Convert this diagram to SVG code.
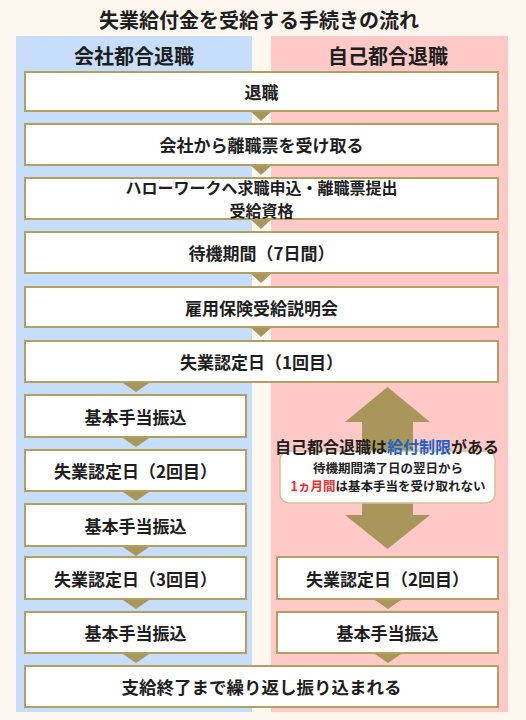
<svg xmlns="http://www.w3.org/2000/svg" width="526" height="720" viewBox="0 0 526 720">
<style>
.bg{fill:#fef7ef}
.box{fill:#ffffff;stroke:#b1a062;stroke-width:2}
.tri{fill:#a8965a}
.t{font-family:"Noto Sans CJK JP","Noto Sans",sans-serif;font-weight:700;fill:#1e1e1e;text-anchor:middle;dominant-baseline:central}
.bt{font-size:17px}
.hd{font-size:20px}
.sm{font-size:12.5px}
.blue{fill:#1f63c6}
.red{fill:#ee2b2f}
</style>
<rect class="bg" x="0" y="0" width="526" height="720"/>
<text class="t" x="259" y="19" style="font-size:20px">失業給付金を受給する手続きの流れ</text>
<rect x="16" y="36" width="236" height="676" fill="#c6defb"/>
<rect x="271" y="36" width="237" height="676" fill="#ffc9c7"/>
<text class="t hd" x="134" y="55">会社都合退職</text>
<text class="t hd" x="388" y="55">自己都合退職</text>
<g id="connectors">
<polygon class="tri" points="249,110 273,110 261,121"/>
<polygon class="tri" points="249,164 273,164 261,175"/>
<polygon class="tri" points="249,218 273,218 261,229"/>
<polygon class="tri" points="249,272 273,272 261,283"/>
<polygon class="tri" points="249,326 273,326 261,337"/>
<polygon class="tri" points="120,381 152,381 136,392"/>
<polygon class="tri" points="120,436 152,436 136,447"/>
<polygon class="tri" points="120,490 152,490 136,501"/>
<polygon class="tri" points="120,545 152,545 136,556"/>
<polygon class="tri" points="120,598 152,598 136,609"/>
<polygon class="tri" points="120,652 152,652 136,663"/>
<polygon class="tri" points="372,598 404,598 388,609"/>
<polygon class="tri" points="372,652 404,652 388,663"/>
<polygon class="tri" points="387.5,387 430,422 413,422 413,455 362,455 362,422 345,422"/>
<polygon class="tri" points="362,500 413,500 413,515 430,515 387.5,549 345,515 362,515"/>
</g>
<g id="n1"><rect class="box" x="25" y="72" width="473" height="39"/><text class="t bt" x="261.5" y="91.5">退職</text></g>
<g id="n2"><rect class="box" x="25" y="124" width="473" height="41"/><text class="t bt" x="261.5" y="144.5">会社から離職票を受け取る</text></g>
<g id="n3"><rect class="box" x="25" y="178" width="473" height="41"/><text class="t" x="261.5" y="186.5" style="font-size:16px">ハローワークへ求職申込・離職票提出</text><text class="t" x="261.5" y="210" style="font-size:16px">受給資格</text></g>
<g id="n4"><rect class="box" x="25" y="232" width="473" height="41"/><text class="t bt" x="261.5" y="252.5">待機期間（7日間）</text></g>
<g id="n5"><rect class="box" x="25" y="287" width="473" height="40"/><text class="t bt" x="261.5" y="307">雇用保険受給説明会</text></g>
<g id="n6"><rect class="box" x="25" y="341" width="473" height="41"/><text class="t bt" x="261.5" y="361.5">失業認定日（1回目）</text></g>
<g id="n7"><rect class="box" x="25" y="395" width="221" height="42"/><text class="t bt" x="135.5" y="416">基本手当振込</text></g>
<g id="n8"><rect class="box" x="25" y="450" width="221" height="41"/><text class="t bt" x="135.5" y="470.5">失業認定日（2回目）</text></g>
<g id="n9"><rect class="box" x="25" y="504" width="221" height="42"/><text class="t bt" x="135.5" y="525">基本手当振込</text></g>
<g id="n10"><rect class="box" x="25" y="557" width="221" height="42"/><text class="t bt" x="135.5" y="578">失業認定日（3回目）</text></g>
<g id="n11"><rect class="box" x="25" y="612" width="221" height="41"/><text class="t bt" x="135.5" y="632.5">基本手当振込</text></g>
<g id="r1"><rect class="box" x="277" y="557" width="221" height="42"/><text class="t bt" x="387.5" y="578">失業認定日（2回目）</text></g>
<g id="r2"><rect class="box" x="277" y="612" width="221" height="41"/><text class="t bt" x="387.5" y="632.5">基本手当振込</text></g>
<g id="n12"><rect class="box" x="25" y="666" width="473" height="41"/><text class="t" x="261.5" y="686.5" style="font-size:17.5px">支給終了まで繰り返し振り込まれる</text></g>
<g id="note">
<rect x="280" y="451" width="215" height="52" rx="9" fill="#ffffff" stroke="#cfc396" stroke-width="1.5"/>
<text class="t" x="387" y="446" style="font-size:16px">自己都合退職は<tspan class="blue">給付制限</tspan>がある</text>
<text class="t sm" x="388" y="467.5">待機期間満了日の翌日から</text>
<text class="t sm" x="388" y="485"><tspan class="red">1ヵ月間</tspan>は基本手当を受け取れない</text>
</g>
</svg>
